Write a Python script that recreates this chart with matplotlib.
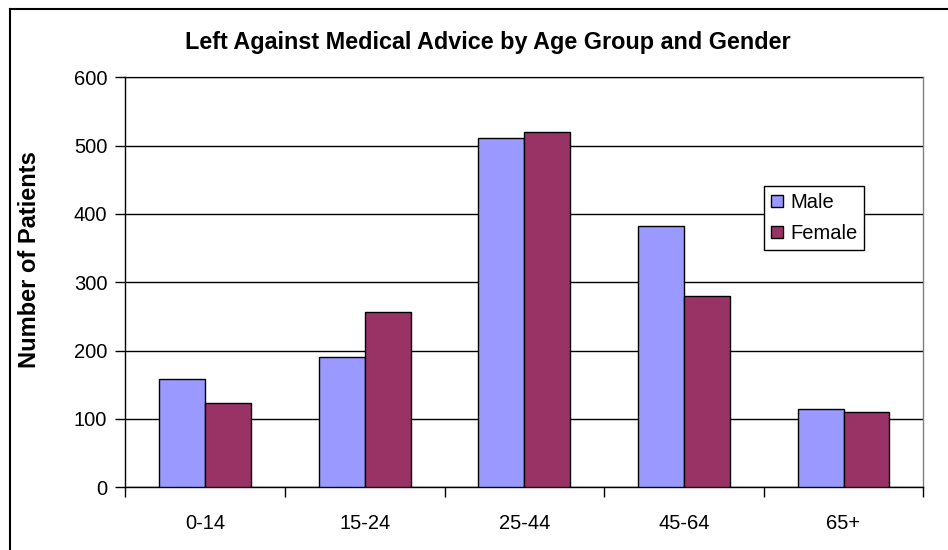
import matplotlib
matplotlib.use('Agg')
import matplotlib.pyplot as plt
import numpy as np
from matplotlib.lines import Line2D

plt.rcParams['font.family'] = ['Liberation Sans', 'DejaVu Sans']

age_groups = ['0-14', '15-24', '25-44', '45-64', '65+']
male = [159, 190, 511, 382, 114]
female = [123, 256, 520, 280, 110]

fig = plt.figure(figsize=(9.48, 5.5), dpi=100)
ax = fig.add_axes([125.3 / 948, 1 - 487.3 / 550, (923.3 - 125.3) / 948, (487.3 - 77.3) / 550])

x = np.arange(len(age_groups))
w = 0.288
ax.bar(x - w / 2, male, w, color='#9999FF', edgecolor='black', linewidth=1, label='Male', zorder=3)
ax.bar(x + w / 2, female, w, color='#993366', edgecolor='black', linewidth=1, label='Female', zorder=3)

ax.set_xlim(-0.5, len(age_groups) - 0.5)
ax.set_ylim(0, 600)
ax.set_yticks(range(0, 601, 100))
ax.yaxis.grid(True, color='black', linewidth=1, zorder=0)
ax.tick_params(axis='y', labelsize=14.5, length=7, width=1, direction='out', pad=6)

# category boundaries as ticks, labels at centers
ax.set_xticks(np.arange(-0.5, len(age_groups), 1.0))
ax.set_xticklabels([])
ax.set_xticks(x, minor=True)
ax.set_xticklabels(age_groups, minor=True)
ax.tick_params(axis='x', which='major', length=7, width=1, direction='out')
ax.tick_params(axis='x', which='minor', length=0, labelsize=14.5, pad=19)

ax.spines['top'].set_color('#808080')
ax.spines['right'].set_color('#808080')
ax.spines['top'].set_zorder(1)
for s in ax.spines.values():
    s.set_linewidth(1)

ax.set_ylabel('Number of Patients', fontsize=17, fontweight='bold', va='center')
ax.yaxis.set_label_coords(30 / 948, 1 - 260 / 550, transform=fig.transFigure)

fig.text(487.5 / 948, 1 - 42 / 550, 'Left Against Medical Advice by Age Group and Gender',
         ha='center', va='center', fontsize=16.8, fontweight='bold')

leg = ax.legend(loc='upper left', bbox_to_anchor=(764 / 948, 1 - 186 / 550),
                bbox_transform=fig.transFigure, borderaxespad=0, fontsize=14.5,
                fancybox=False, framealpha=1, edgecolor='black',
                handlelength=0.6, handleheight=0.6, handletextpad=0.35,
                borderpad=0.35, labelspacing=0.6)
leg.get_frame().set_linewidth(1)

# outer chart frame (cut off at right and bottom)
fig.add_artist(Line2D([10 / 948, 1], [1 - 9 / 550, 1 - 9 / 550], transform=fig.transFigure,
                      color='black', linewidth=1.5))
fig.add_artist(Line2D([10 / 948, 10 / 948], [1 - 9 / 550, 0], transform=fig.transFigure,
                      color='black', linewidth=1.5))

fig.savefig('out.png', dpi=100)
